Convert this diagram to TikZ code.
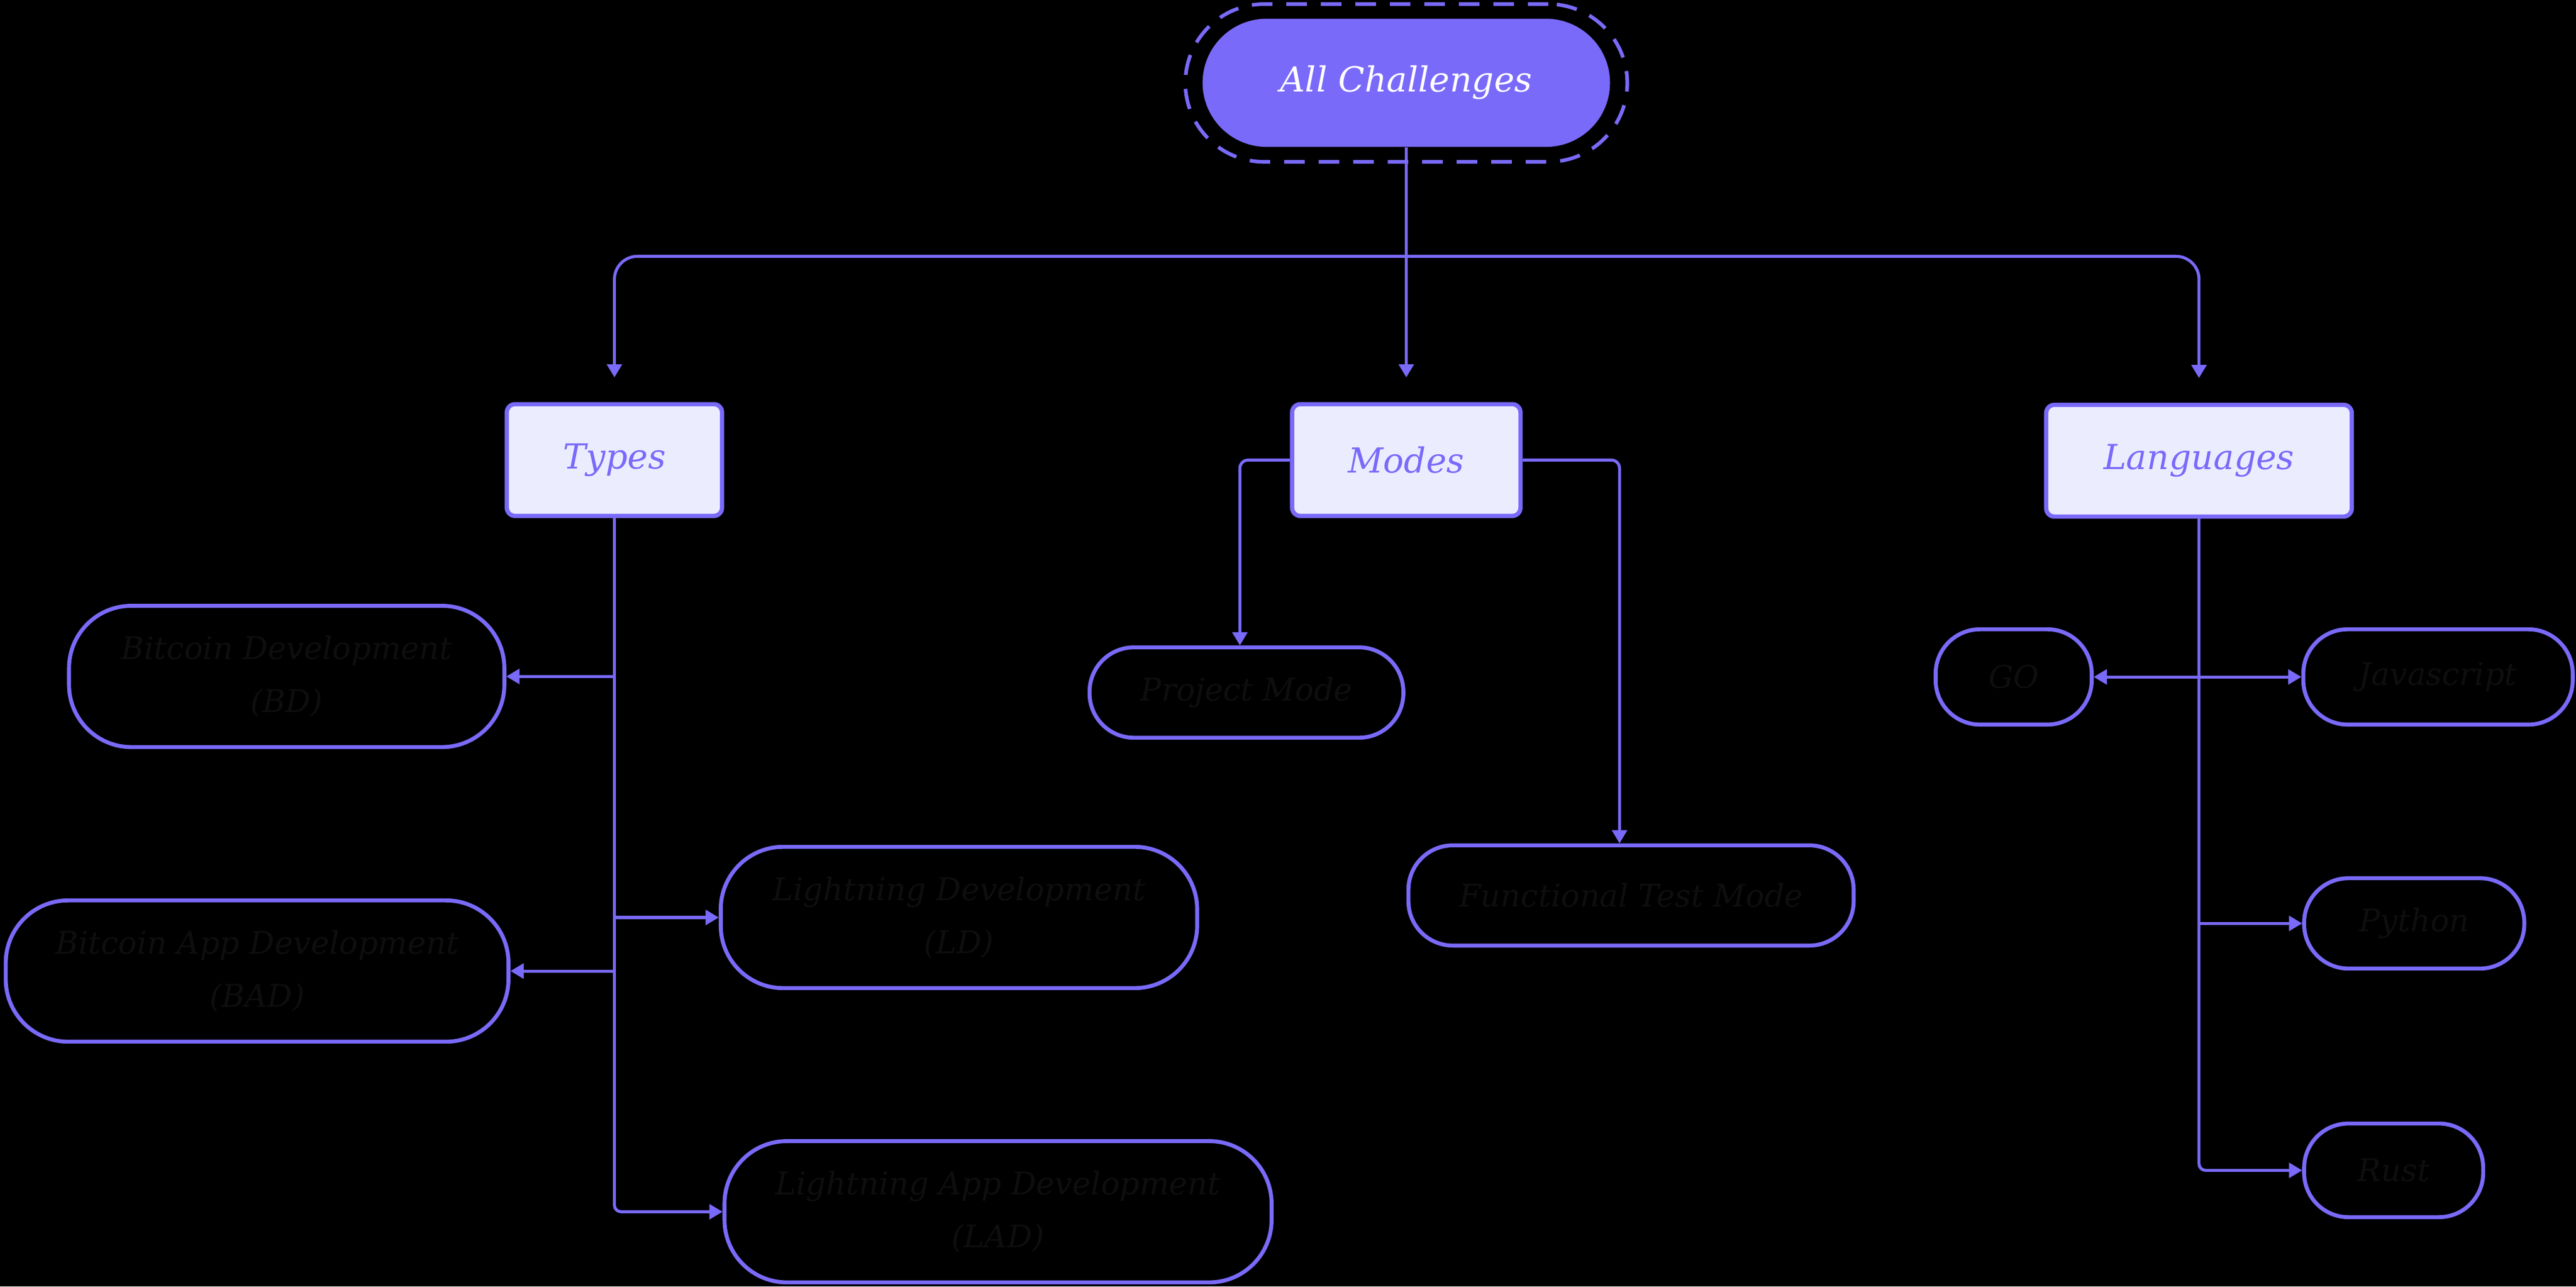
\documentclass[tikz,border=0pt]{standalone}
\usepackage{fontspec}
\setmainfont{DejaVu Serif}
\usetikzlibrary{arrows.meta}
\definecolor{lav}{RGB}{122,106,250}
\definecolor{lavpale}{RGB}{236,236,255}
\definecolor{inkdark}{RGB}{14,14,14}

\begin{document}
\begin{tikzpicture}[x=1pt,y=-1pt]
  \tikzstyle{link}=[draw=lav, line width=1.8pt, -{Triangle[length=8pt,width=9pt]}]
  \tikzstyle{catbox}=[draw=lav, fill=lavpale, line width=2.6pt, rounded corners=5pt, text=lav, font=\fontsize{21}{25}\selectfont\itshape, minimum height=68pt]
  \tikzstyle{bigpill}=[draw=lav, line width=2.4pt, rounded corners=38pt, minimum height=86pt, align=center, text=inkdark, font=\fontsize{19}{32}\selectfont\itshape]
  \tikzstyle{pill}=[bigpill, rounded corners=27pt, minimum height=55pt]
  % background
  \fill[black] (0,0) rectangle (1568,783);
  \useasboundingbox (0,0) rectangle (1568,783);
  % root
  \node[draw=lav, line width=2.2pt, dash pattern=on 12.5pt off 8.5pt, rounded corners=48pt, minimum width=269pt, minimum height=96pt] (halo) at (856,50.5) {};
  \node[fill=lav, rounded corners=39pt, minimum width=248pt, minimum height=78pt, text=white, font=\fontsize{21}{25}\selectfont\itshape] (root) at (856,50.4) {All Challenges};
  % categories
  \node[catbox, minimum width=131pt] (types) at (374,280) {Types};
  \node[catbox, minimum width=139pt] (modes) at (856,280) {Modes};
  \node[catbox, minimum width=186pt] (langs) at (1338.5,280.4) {Languages};
  % types
  \node[bigpill, minimum width=265pt] (bd) at (174.5,411.7) {Bitcoin Development\\(BD)};
  \node[bigpill, minimum width=306pt] (bad) at (156.5,591) {Bitcoin App Development\\(BAD)};
  \node[bigpill, minimum width=290pt] (ld) at (583.7,558.4) {Lightning Development\\(LD)};
  \node[bigpill, minimum width=333pt] (lad) at (607.5,737.5) {Lightning App Development\\(LAD)};
  % modes
  \node[pill, minimum width=191pt] (pm) at (758.7,421.5) {Project Mode};
  \node[pill, minimum width=271pt, minimum height=61pt] (ftm) at (992.8,545) {Functional Test Mode};
  % languages
  \node[pill, minimum width=95pt, minimum height=58pt] (go) at (1225.7,412) {GO};
  \node[pill, minimum width=164pt, minimum height=58pt] (js) at (1484,412) {Javascript};
  \node[pill, minimum width=134pt] (py) at (1469.5,562) {Python};
  \node[pill, minimum width=109pt, minimum height=57pt] (rust) at (1457,712.3) {Rust};
  % edges
  \coordinate (bar) at (856,156);
  \draw[link, shorten >=15pt] (root.south) -- (modes.north);
  \draw[link, rounded corners=14pt, shorten >=15pt] (bar) -| (types.north);
  \draw[link, rounded corners=14pt, shorten >=15pt] (bar) -| (langs.north);
  \draw[link, rounded corners=4pt] (types.south) |- (lad.west);
  \draw[link] (types.south |- bd.east) -- (bd.east);
  \draw[link] (types.south |- ld.west) -- (ld.west);
  \draw[link] (types.south |- bad.east) -- (bad.east);
  \draw[link, rounded corners=5pt] (modes.west) -| ([xshift=-4pt]pm.north);
  \draw[link, rounded corners=5pt] (modes.east) -| ([xshift=-7pt]ftm.north);
  \draw[link, rounded corners=4pt] (langs.south) |- (rust.west);
  \draw[link] (langs.south |- go.east) -- (go.east);
  \draw[link] (langs.south |- js.west) -- (js.west);
  \draw[link] (langs.south |- py.west) -- (py.west);
\end{tikzpicture}
\end{document}
